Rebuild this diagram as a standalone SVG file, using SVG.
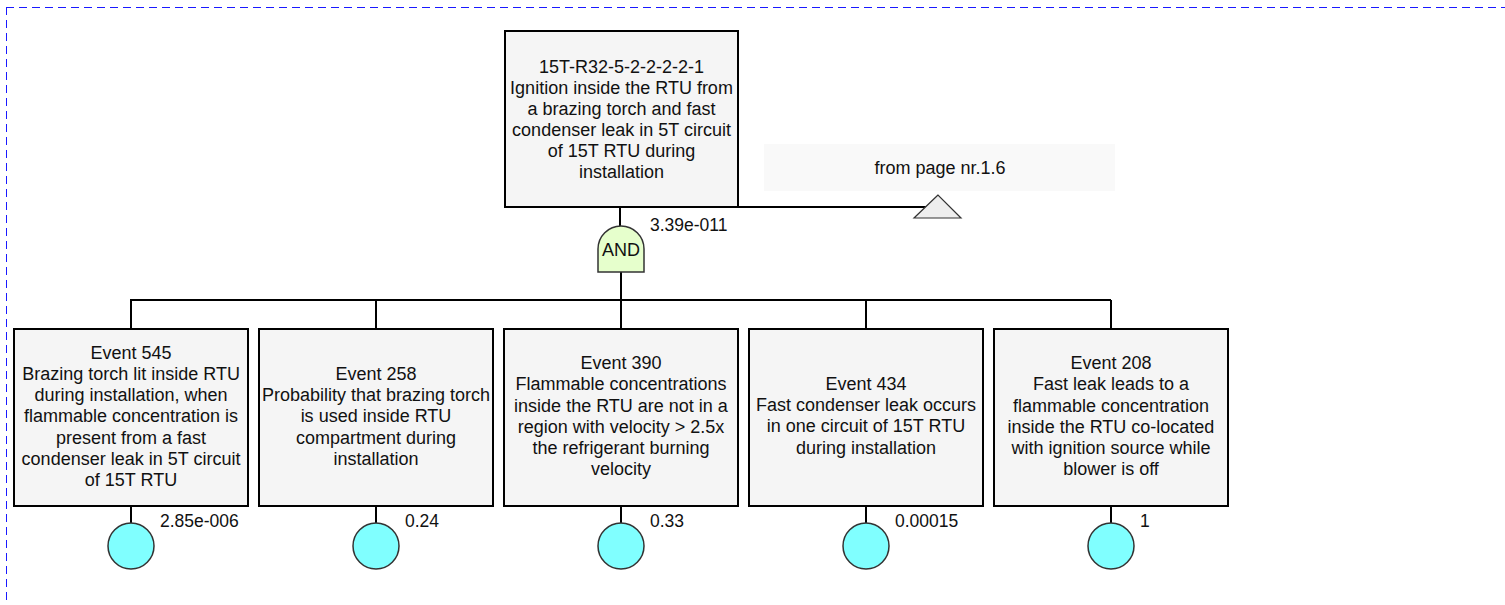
<svg xmlns="http://www.w3.org/2000/svg" width="1505" height="605" viewBox="0 0 1505 605">
<style>
.box{fill:#f5f5f5;stroke:#000;stroke-width:2}
.t{font-family:"Liberation Sans",Arial,sans-serif;font-size:18px;fill:#111;text-anchor:middle}
.p{font-family:"Liberation Sans",Arial,sans-serif;font-size:17.5px;fill:#111}
.c{fill:none;stroke:#000;stroke-width:2}
.ev{fill:#80ffff;stroke:#333;stroke-width:1.5}
.b{stroke:#1a1aff;stroke-width:1;stroke-dasharray:8,5}
</style>
<rect width="1505" height="605" fill="#fff"/>
<g id="border">
<line class="b" x1="6" y1="7.5" x2="1505" y2="7.5"/>
<line class="b" x1="6.5" y1="7" x2="6.5" y2="605"/>
</g>
<g id="connectors">
<polyline class="c" points="620,207 620,226"/>
<polyline class="c" points="620,207 938,207"/>
<line class="c" x1="621" y1="272" x2="621" y2="300"/>
<line class="c" x1="130" y1="300" x2="1111" y2="300"/>
<line class="c" x1="131" y1="300" x2="131" y2="329"/>
<line class="c" x1="376" y1="300" x2="376" y2="329"/>
<line class="c" x1="621" y1="300" x2="621" y2="329"/>
<line class="c" x1="866" y1="300" x2="866" y2="329"/>
<line class="c" x1="1111" y1="300" x2="1111" y2="329"/>
<line class="c" x1="131" y1="506" x2="131" y2="523"/>
<line class="c" x1="376" y1="506" x2="376" y2="523"/>
<line class="c" x1="621" y1="506" x2="621" y2="523"/>
<line class="c" x1="866" y1="506" x2="866" y2="523"/>
<line class="c" x1="1111" y1="506" x2="1111" y2="523"/>
</g>
<g id="top">
<rect class="box" x="505" y="31" width="233" height="176"/>
<text class="t" x="621.5" y="73">15T-R32-5-2-2-2-2-1</text>
<text class="t" x="621.5" y="94">Ignition inside the RTU from</text>
<text class="t" x="621.5" y="115">a brazing torch and fast</text>
<text class="t" x="621.5" y="136">condenser leak in 5T circuit</text>
<text class="t" x="621.5" y="157">of 15T RTU during</text>
<text class="t" x="621.5" y="178">installation</text>
</g>
<g id="transfer">
<rect x="764" y="144" width="351" height="47" fill="#f9f9f9"/>
<text class="t" x="940" y="174">from page nr.1.6</text>
<polygon points="938,195 914,218 961,218" fill="#eeeeee" stroke="#333" stroke-width="1.2"/>
</g>
<g id="gate">
<path d="M598,272 L598,249 A23,23 0 0 1 644,249 L644,272 Z" fill="#e6ffcc" stroke="#333" stroke-width="1.5"/>
<text class="t" x="621" y="256">AND</text>
<text class="p" x="650" y="231">3.39e-011</text>
</g>
<g id="e545">
<rect class="box" x="14" y="329" width="234" height="177"/>
<text class="t" x="131" y="359">Event 545</text>
<text class="t" x="131" y="380">Brazing torch lit inside RTU</text>
<text class="t" x="131" y="401">during installation, when</text>
<text class="t" x="131" y="422">flammable concentration is</text>
<text class="t" x="131" y="444">present from a fast</text>
<text class="t" x="131" y="465">condenser leak in 5T circuit</text>
<text class="t" x="131" y="486">of 15T RTU</text>
<circle class="ev" cx="131" cy="546" r="23"/>
<text class="p" x="160" y="527">2.85e-006</text>
</g>
<g id="e258">
<rect class="box" x="259" y="329" width="234" height="177"/>
<text class="t" x="376" y="380">Event 258</text>
<text class="t" x="376" y="401">Probability that brazing torch</text>
<text class="t" x="376" y="422">is used inside RTU</text>
<text class="t" x="376" y="444">compartment during</text>
<text class="t" x="376" y="465">installation</text>
<circle class="ev" cx="376" cy="546" r="23"/>
<text class="p" x="405" y="527">0.24</text>
</g>
<g id="e390">
<rect class="box" x="504" y="329" width="234" height="177"/>
<text class="t" x="621" y="369">Event 390</text>
<text class="t" x="621" y="390">Flammable concentrations</text>
<text class="t" x="621" y="412">inside the RTU are not in a</text>
<text class="t" x="621" y="433">region with velocity &gt; 2.5x</text>
<text class="t" x="621" y="454">the refrigerant burning</text>
<text class="t" x="621" y="475">velocity</text>
<circle class="ev" cx="621" cy="546" r="23"/>
<text class="p" x="650" y="527">0.33</text>
</g>
<g id="e434">
<rect class="box" x="749" y="329" width="234" height="177"/>
<text class="t" x="866" y="390">Event 434</text>
<text class="t" x="866" y="411">Fast condenser leak occurs</text>
<text class="t" x="866" y="432">in one circuit of 15T RTU</text>
<text class="t" x="866" y="454">during installation</text>
<circle class="ev" cx="866" cy="546" r="23"/>
<text class="p" x="895" y="527">0.00015</text>
</g>
<g id="e208">
<rect class="box" x="994" y="329" width="234" height="177"/>
<text class="t" x="1111" y="369">Event 208</text>
<text class="t" x="1111" y="390">Fast leak leads to a</text>
<text class="t" x="1111" y="412">flammable concentration</text>
<text class="t" x="1111" y="433">inside the RTU co-located</text>
<text class="t" x="1111" y="454">with ignition source while</text>
<text class="t" x="1111" y="475">blower is off</text>
<circle class="ev" cx="1111" cy="546" r="23"/>
<text class="p" x="1140" y="527">1</text>
</g>
</svg>
